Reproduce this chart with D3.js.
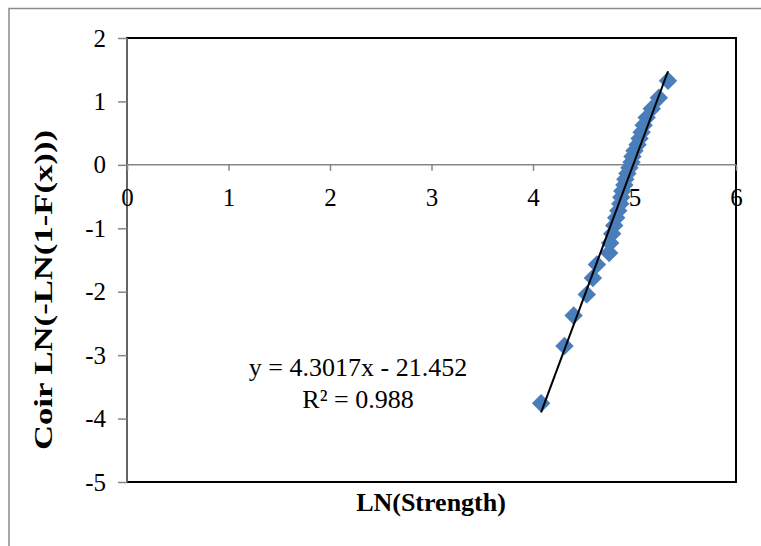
<!DOCTYPE html>
<html>
<head>
  <title>Weibull plot - Coir</title>
  <script src="https://d3js.org/d3.v7.min.js"></script>
  <style>
    body { margin: 0; background: #fff; }
    svg { display: block; }
    text { font-family: "Liberation Serif", "Times New Roman", serif; fill: #000; }
  </style>
</head>
<body>
  <svg id="chart" width="761" height="546"></svg>

  <script>
    // Data
    const lnStrength = [4.08, 4.31, 4.40, 4.53, 4.59, 4.63, 4.75, 4.76, 4.78, 4.80,
                        4.82, 4.84, 4.86, 4.87, 4.88, 4.90, 4.91, 4.93, 4.95, 4.97,
                        4.98, 5.00, 5.03, 5.05, 5.07, 5.09, 5.12, 5.17, 5.24, 5.33];
    const lnLnF = [-3.759, -2.855, -2.375, -2.042, -1.784, -1.572, -1.390, -1.231, -1.087, -0.956,
                   -0.835, -0.722, -0.615, -0.512, -0.414, -0.319, -0.227, -0.136, -0.046, 0.043,
                   0.133, 0.224, 0.317, 0.414, 0.515, 0.624, 0.745, 0.884, 1.059, 1.327];
    const xTicks = [0, 1, 2, 3, 4, 5, 6];
    const yTicks = [2, 1, 0, -1, -2, -3, -4, -5];
    const slope = 4.3017;
    const intercept = -21.452;
    const eqLabel = 'y = 4.3017x - 21.452';
    const r2Label = 'R² = 0.988';

    const svg = d3.select('#chart');

    // Plot area
    const plotL = 127, plotR = 736, plotT = 38, plotB = 482;
    const x = d3.scaleLinear().domain([0, 6]).range([plotL, plotR]);
    const y = d3.scaleLinear().domain([-5, 2]).range([plotB, plotT]);

    // outer chart frame
    svg.append('path')
      .attr('d', `M9,546 V8.5 H761`)
      .attr('fill', 'none')
      .attr('stroke', '#8c8c8c')
      .attr('stroke-width', 1.5);

    // plot border
    svg.append('rect')
      .attr('x', plotL).attr('y', plotT)
      .attr('width', plotR - plotL).attr('height', plotB - plotT)
      .attr('fill', 'none')
      .attr('stroke', '#000')
      .attr('stroke-width', 2);

    // y axis (at x = 0)
    const yAxis = svg.append('g')
      .attr('transform', `translate(${x(0)},0)`)
      .call(d3.axisLeft(y).tickValues(yTicks).tickSize(9).tickPadding(12).tickFormat(d3.format('d')));

    // x axis (at y = 0)
    const xAxis = svg.append('g')
      .attr('transform', `translate(0,${y(0)})`)
      .call(d3.axisBottom(x).tickValues(xTicks).tickSize(6).tickPadding(17).tickFormat(d3.format('d')));

    [xAxis, yAxis].forEach(g => {
      g.select('.domain').attr('stroke', '#868686').attr('stroke-width', 1.5);
      g.selectAll('.tick line').attr('stroke', '#868686').attr('stroke-width', 1.5);
      g.selectAll('.tick text')
        .attr('font-size', 25)
        .attr('font-family', '"Liberation Serif", "Times New Roman", serif')
        .attr('fill', '#000')
        .text(d => d < 0 ? '-' + Math.abs(d) : d);
    });
    yAxis.select('.domain').attr('d', `M0,${plotT}V${plotB}`);
    xAxis.select('.domain').attr('d', `M${plotL},0H${plotR}`);
    xAxis.raise();

    // points
    const diamond = d3.symbol().type(d3.symbolSquare).size(170);
    svg.append('g')
      .selectAll('path')
      .data(lnStrength.map((v, i) => [v, lnLnF[i]]))
      .join('path')
      .attr('transform', d => `translate(${x(d[0])},${y(d[1])}) rotate(45)`)
      .attr('d', diamond)
      .attr('fill', '#4a7ebb');

    // linear trendline over the data range
    const [x0, x1] = d3.extent(lnStrength);
    svg.append('line')
      .attr('x1', x(x0)).attr('y1', y(slope * x0 + intercept))
      .attr('x2', x(x1)).attr('y2', y(slope * x1 + intercept))
      .attr('stroke', '#000')
      .attr('stroke-width', 2);

    // trendline label
    svg.append('text')
      .attr('x', 358).attr('y', 376)
      .attr('text-anchor', 'middle')
      .attr('font-size', 26)
      .text(eqLabel);
    svg.append('text')
      .attr('x', 358).attr('y', 408)
      .attr('text-anchor', 'middle')
      .attr('font-size', 26)
      .text(r2Label);

    // axis titles
    svg.append('text')
      .attr('x', 431).attr('y', 511)
      .attr('text-anchor', 'middle')
      .attr('font-size', 26)
      .attr('font-weight', 'bold')
      .text('LN(Strength)');
    svg.append('text')
      .attr('transform', 'translate(52,290) rotate(-90)')
      .attr('text-anchor', 'middle')
      .attr('font-size', 26)
      .attr('font-weight', 'bold')
      .attr('textLength', 320)
      .attr('lengthAdjust', 'spacingAndGlyphs')
      .text('Coir LN(-LN(1-F(x)))');
  </script>
</body>
</html>
